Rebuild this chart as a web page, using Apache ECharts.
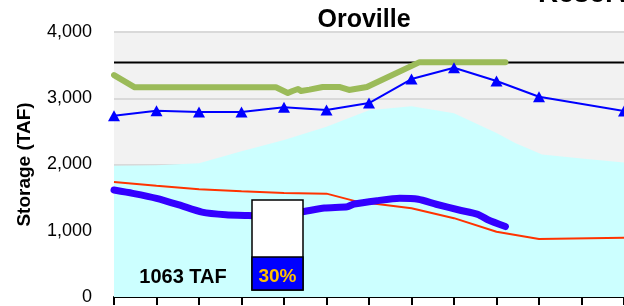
<!DOCTYPE html>
<html>
<head>
<meta charset="utf-8">
<script src="https://cdn.jsdelivr.net/npm/echarts@6/dist/echarts.min.js"></script>
<style>
html,body{margin:0;padding:0;background:#fff;}
#c{width:624px;height:306px;}
</style>
</head>
<body>
<div id="c"></div>
<script>
// ---- data (x = months from start of water year) ----
const yTicks = [0, 1000, 2000, 3000, 4000];
const capacity = 3538;
const storageNow = 1063;
const pctCapacity = 30;

const cyanX = [0, 1, 2, 3, 4, 5, 6, 7, 8, 9, 9.44, 10.07, 11, 12];
const cyanY = [1980, 1990, 2020, 2200, 2370, 2570, 2820, 2880, 2775, 2475, 2325, 2150, 2090, 2030];

const redX = [0, 1, 2, 3, 4, 5, 5.72, 7, 8, 9, 10, 12];
const redY = [1736, 1680, 1625, 1595, 1570, 1560, 1440, 1340, 1190, 985, 875, 895];

const greenX = [0, 0.49, 3.81, 4.09, 4.2, 4.33, 4.4, 4.6, 4.91, 5.3, 5.53, 5.95, 7.19, 9.21];
const greenY = [3350, 3165, 3165, 3080, 3110, 3140, 3110, 3130, 3170, 3170, 3125, 3170, 3545, 3545];

const triX = [0, 1, 2, 3, 4, 5, 6, 7, 8, 9, 10, 12];
const triY = [2737, 2812, 2792, 2792, 2863, 2822, 2928, 3290, 3461, 3260, 3023, 2808];

const nowX = [0, 0.44, 1.0, 1.53, 2.07, 2.63, 3.16, 3.6, 4.0, 4.4, 4.95, 5.49, 5.65, 6.19, 6.72, 7.16, 7.58, 8.12, 8.56, 8.81, 9.21];
const nowY = [1615, 1565, 1490, 1390, 1280, 1240, 1230, 1225, 1250, 1283, 1343, 1363, 1404, 1454, 1490, 1475, 1400, 1313, 1248, 1162, 1063];

const zip = (xs, ys) => xs.map((x, i) => [x, ys[i]]);
const FONT = '"Liberation Sans", Arial, sans-serif';

const chart = echarts.init(document.getElementById('c'), null, {renderer: 'canvas'});
chart.setOption({
  animation: false,
  backgroundColor: '#ffffff',
  grid: {left: 114, top: 32, width: 516, height: 265, show: true, backgroundColor: '#f2f2f2', borderWidth: 0},
  xAxis: {
    type: 'value', min: 0, max: 12, interval: 1,
    axisLine: {show: true, onZero: false, lineStyle: {color: '#000', width: 2}},
    axisTick: {show: true, inside: false, length: 8, lineStyle: {color: '#000', width: 2}},
    axisLabel: {show: false},
    splitLine: {show: false}
  },
  yAxis: {
    type: 'value', min: yTicks[0], max: yTicks[yTicks.length - 1], interval: 1000,
    name: 'Storage (TAF)', nameLocation: 'middle', nameGap: 80,
    nameTextStyle: {fontFamily: FONT, fontWeight: 'bold', fontSize: 19, color: '#000'},
    axisLine: {show: false}, axisTick: {show: false},
    axisLabel: {margin: 22, fontFamily: FONT, fontSize: 18, color: '#000',
      formatter: v => v.toLocaleString('en-US')},
    splitLine: {show: true, lineStyle: {color: '#d9d9d9', width: 2}}
  },
  series: [
    {type: 'line', data: zip(cyanX, cyanY), symbol: 'none', lineStyle: {width: 0},
      areaStyle: {color: '#ccffff', opacity: 1}, itemStyle: {color: '#ccffff'}, z: 1},
    {type: 'line', data: [[0, capacity], [12, capacity]], symbol: 'none',
      lineStyle: {color: '#000', width: 2}, z: 2},
    {type: 'line', data: zip(redX, redY), symbol: 'none',
      lineStyle: {color: '#ff3300', width: 2}, z: 3},
    {type: 'line', data: zip(greenX, greenY), symbol: 'none',
      lineStyle: {color: '#9bbb59', width: 6, cap: 'round', join: 'round'}, z: 4},
    {type: 'line', data: zip(triX, triY), symbol: 'triangle', symbolSize: [12, 11],
      itemStyle: {color: '#0000ff'}, lineStyle: {color: '#0000ff', width: 2}, z: 5},
    {type: 'line', data: zip(nowX, nowY), symbol: 'none', smooth: 0.2,
      lineStyle: {color: '#3300ff', width: 7, cap: 'round', join: 'round'}, z: 6}
  ],
  graphic: [
    {type: 'text', x: 364, y: 20, z: 100,
      style: {text: 'Oroville', fontFamily: FONT, fontWeight: 'bold', fontSize: 25, fill: '#000', textAlign: 'center', textVerticalAlign: 'middle'}},
    {type: 'text', x: 538, y: -20, z: 100,
      style: {text: 'Reservoir', fontFamily: FONT, fontWeight: 'bold', fontSize: 28, fill: '#000'}},
    {type: 'rect', shape: {x: 252, y: 200, width: 51, height: 90}, z: 100,
      style: {fill: '#ffffff', stroke: '#000', lineWidth: 1.5}},
    {type: 'rect', shape: {x: 252, y: 257, width: 51, height: 33}, z: 101,
      style: {fill: '#0000ff', stroke: '#000', lineWidth: 1.5}},
    {type: 'text', x: 277.5, y: 277, z: 102,
      style: {text: pctCapacity + '%', fontFamily: FONT, fontWeight: 'bold', fontSize: 19, fill: '#ffc000', textAlign: 'center', textVerticalAlign: 'middle'}},
    {type: 'text', x: 183, y: 277, z: 102,
      style: {text: storageNow + ' TAF', fontFamily: FONT, fontWeight: 'bold', fontSize: 20, fill: '#000', textAlign: 'center', textVerticalAlign: 'middle'}}
  ]
});
</script>
</body>
</html>
